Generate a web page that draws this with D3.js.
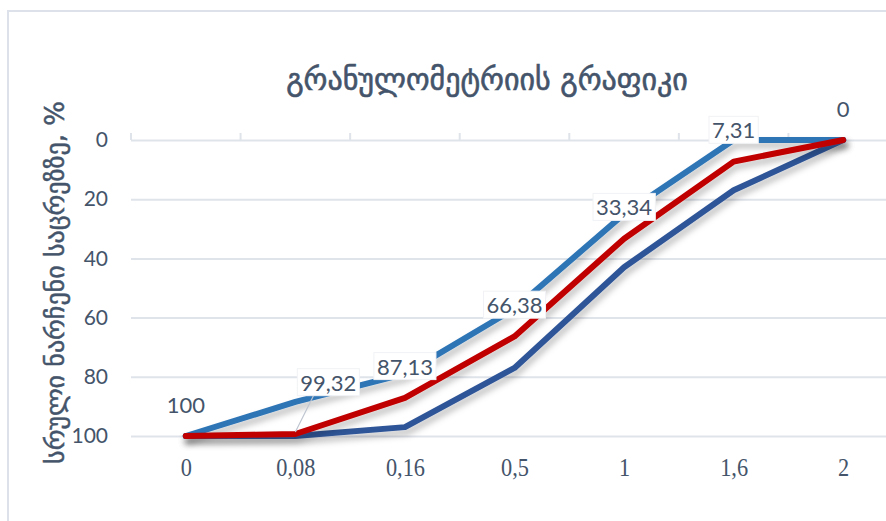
<!DOCTYPE html>
<html>
<head>
<meta charset="utf-8">
<script src="https://cdn.jsdelivr.net/npm/d3@7/dist/d3.min.js"></script>
<style>
  html, body { margin: 0; padding: 0; background: #fff; }
  svg { display: block; }
</style>
</head>
<body>
<svg id="chart" width="886" height="521"></svg>
<script>
// Sieve sizes (mm) and cumulative residue on sieve, %
const sieves = ["0", "0,08", "0,16", "0,5", "1", "1,6", "2"];
const upperBound = [100, 88.5, 79, 57, 25, 0, 0];
const sample = [100, 99.32, 87.13, 66.38, 33.34, 7.31, 0];
const lowerBound = [100, 100, 97, 77, 43, 17, 0];
const sampleLabels = ["100", "99,32", "87,13", "66,38", "33,34", "7,31", "0"];
const yTicks = [0, 20, 40, 60, 80, 100];

const titleText = "გრანულომეტრიის გრაფიკი";
const yTitleText = "სრული ნარჩენი საცრეზზე, %";

const svg = d3.select("#chart");
const W = 886, H = 521;
const plot = { left: 131, right: 898, top: 140, bottom: 436 };
const textColor = "#44546a";
const gridColor = "#dfe3ea";

// chart frame
svg.append("rect")
  .attr("x", 8).attr("y", 11).attr("width", 900).attr("height", 540)
  .attr("fill", "#fff").attr("stroke", "#dde2ea").attr("stroke-width", 2);

const defs = svg.append("defs");
const f = defs.append("filter").attr("id", "shadow")
  .attr("x", "-10%").attr("y", "-10%").attr("width", "120%").attr("height", "130%");
f.append("feDropShadow").attr("dx", 2).attr("dy", 5).attr("stdDeviation", 3)
  .attr("flood-color", "#000").attr("flood-opacity", 0.25);

const x = d3.scalePoint().domain(sieves).range([plot.left, plot.right]).padding(0.5);
const y = d3.scaleLinear().domain([0, 100]).range([plot.top, plot.bottom]);

// horizontal gridlines
const yAxis = d3.axisLeft(y).tickValues(yTicks).tickSize(-(W - plot.left)).tickPadding(23);
const gy = svg.append("g").attr("transform", `translate(${plot.left},0)`).call(yAxis);
gy.select(".domain").remove();
gy.selectAll(".tick line").attr("stroke", gridColor).attr("stroke-width", 2);
gy.selectAll(".tick text")
  .attr("fill", textColor)
  .style("font-family", "Lato, 'Open Sans', sans-serif")
  .style("font-size", "21px");

// category tick marks along the top (reversed value axis puts category axis at 0)
const step = x.step();
const boundaries = d3.range(sieves.length + 1).map(i => plot.left + i * step);
svg.append("g").selectAll("line").data(boundaries).join("line")
  .attr("x1", d => d).attr("x2", d => d)
  .attr("y1", plot.top - 7).attr("y2", plot.top)
  .attr("stroke", gridColor).attr("stroke-width", 2);

// category labels at the bottom, in a narrowed serif face
const xAxis = d3.axisBottom(x).tickSize(0).tickPadding(0);
const gx = svg.append("g").attr("transform", `translate(0,${plot.bottom})`).call(xAxis);
gx.select(".domain").remove();
gx.selectAll(".tick text")
  .attr("fill", textColor)
  .attr("y", 0).attr("dy", 0)
  .style("font-family", "'Liberation Serif', 'DejaVu Serif', serif")
  .style("font-size", "26px")
  .attr("transform", "translate(0,40) scale(0.86,1)");

// lines
const line = d3.line().x((d, i) => x(sieves[i])).y(d => y(d)).curve(d3.curveLinear);
const series = [
  { values: upperBound, color: "#2e75b6" },
  { values: lowerBound, color: "#2f5597" },
  { values: sample, color: "#c00000" }
];
svg.append("g").selectAll("path").data(series).join("path")
  .attr("d", d => line(d.values))
  .attr("fill", "none")
  .attr("stroke", d => d.color)
  .attr("stroke-width", 6)
  .attr("stroke-linejoin", "round")
  .attr("stroke-linecap", "round")
  .attr("filter", "url(#shadow)");

// data labels for the sample
const labelOffsets = sample.map((v, i) => i === 1 ? { dx: 33, dy: -51 } : { dx: 0, dy: -31 });
const lg = svg.append("g");
// leader line for the displaced label
lg.append("line")
  .attr("x1", x(sieves[1])).attr("y1", y(sample[1]) - 2)
  .attr("x2", x(sieves[1]) + 18).attr("y2", y(sample[1]) - 38)
  .attr("stroke", "#bfc5cf").attr("stroke-width", 1.2);

sample.forEach((v, i) => {
  const cx = x(sieves[i]) + labelOffsets[i].dx;
  const cy = y(v) + labelOffsets[i].dy;
  const g = lg.append("g").attr("transform", `translate(${cx},${cy})`);
  const t = g.append("text")
    .attr("text-anchor", "middle")
    .attr("dy", "0.35em")
    .attr("fill", textColor)
    .style("font-family", "Lato, 'Open Sans', sans-serif")
    .style("font-size", "22px")
    .text(sampleLabels[i]);
  const bb = t.node().getBBox();
  if (i !== 0 && i !== sample.length - 1) {
    g.insert("rect", "text")
      .attr("x", bb.x - 3).attr("y", bb.y)
      .attr("width", bb.width + 6).attr("height", bb.height)
      .attr("fill", "#fff").attr("stroke", "#f1f2f5").attr("stroke-width", 1);
  }
});

// title
svg.append("text")
  .attr("x", 487).attr("y", 90)
  .attr("text-anchor", "middle")
  .attr("fill", textColor)
  .attr("stroke", textColor).attr("stroke-width", 0.6)
  .style("font-family", "'DejaVu Sans', sans-serif")
  .style("font-size", "30px")
  .text(titleText);

// value axis title
svg.append("text")
  .attr("transform", `translate(64,${(95 + 470) / 2}) rotate(-90)`)
  .attr("text-anchor", "middle")
  .attr("fill", textColor)
  .attr("stroke", textColor).attr("stroke-width", 0.5)
  .style("font-family", "'DejaVu Sans', sans-serif")
  .style("font-size", "26px")
  .text(yTitleText);
</script>
</body>
</html>
